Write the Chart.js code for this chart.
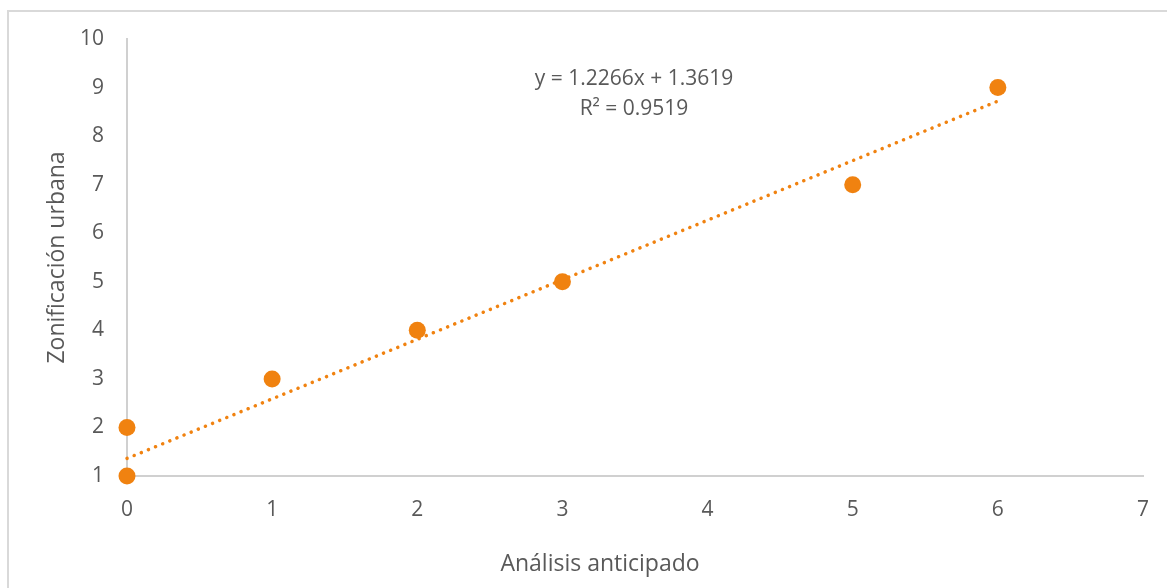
<!DOCTYPE html>
<html>
<head>
<meta charset="utf-8">
<script src="https://cdn.jsdelivr.net/npm/chart.js@4.4.1/dist/chart.umd.min.js"></script>
<style>
  html, body { margin: 0; padding: 0; background: #ffffff; }
  #wrap { width: 1167px; height: 588px; position: relative; }
</style>
</head>
<body>
<div id="wrap"><canvas id="c" width="1167" height="588"></canvas></div>
<script>
// Data
const analisisAnticipado = [0, 0, 1, 2, 3, 5, 6];
const zonificacionUrbana = [1, 2, 3, 4, 5, 7, 9];
// Trendline as printed on the chart
const trendSlope = 1.2266;
const trendIntercept = 1.3619;
const trendRange = [0, 6];
const trendLabel = ['y = 1.2266x + 1.3619', 'R² = 0.9519'];
const xTicks = [0, 1, 2, 3, 4, 5, 6, 7];
const yTicks = [1, 2, 3, 4, 5, 6, 7, 8, 9, 10];
const xTitle = 'Análisis anticipado';
const yTitle = 'Zonificación urbana';

const ORANGE = '#F08210';
const TEXT = '#595959';
const AXIS = '#d0d0d0';
const FONT = "'Open Sans', 'Noto Sans', sans-serif";

const points = analisisAnticipado.map((x, i) => ({ x: x, y: zonificacionUrbana[i] }));
const trendPoints = trendRange.map(x => ({ x: x, y: trendSlope * x + trendIntercept }));

const decor = {
  id: 'decor',
  beforeDraw(chart) {
    const ctx = chart.ctx;
    ctx.save();
    ctx.strokeStyle = '#d9d9d9';
    ctx.lineWidth = 2;
    ctx.strokeRect(8, 11, 1200, 640);
    ctx.restore();
  },
  afterDraw(chart) {
    const ctx = chart.ctx;
    const ys = chart.scales.y;
    ctx.save();
    ctx.fillStyle = TEXT;
    ctx.textAlign = 'center';
    ctx.textBaseline = 'middle';
    ctx.font = "23px " + FONT;
    ctx.fillText(xTitle, 600, 564);
    ctx.save();
    ctx.translate(57, (ys.top + ys.bottom) / 2);
    ctx.rotate(-Math.PI / 2);
    ctx.fillText(yTitle, 0, 0);
    ctx.restore();
    ctx.font = "21px " + FONT;
    ctx.fillText(trendLabel[0], 634, 79);
    ctx.fillText(trendLabel[1], 634, 109);
    ctx.restore();
  }
};

new Chart(document.getElementById('c'), {
  type: 'scatter',
  data: {
    datasets: [
      {
        label: 'Trend',
        data: trendPoints,
        showLine: true,
        borderColor: ORANGE,
        borderWidth: 3.5,
        borderDash: [0.1, 7.6],
        borderCapStyle: 'round',
        pointRadius: 0,
        fill: false,
        clip: false,
        order: 2
      },
      {
        label: 'Datos',
        data: points,
        backgroundColor: ORANGE,
        borderColor: ORANGE,
        borderWidth: 0,
        pointRadius: 8.5,
        pointHoverRadius: 8.5,
        clip: false,
        order: 1
      }
    ]
  },
  plugins: [decor],
  options: {
    responsive: false,
    animation: false,
    layout: { padding: { top: 39, right: 24, left: 0, bottom: 0 } },
    plugins: { legend: { display: false }, tooltip: { enabled: false } },
    scales: {
      x: {
        type: 'linear',
        min: 0, max: 7,
        afterBuildTicks: s => { s.ticks = xTicks.map(v => ({ value: v })); },
        afterFit: s => { s.height = 112; },
        grid: { display: false },
        border: { display: true, color: AXIS, width: 2 },
        ticks: { color: TEXT, font: { family: FONT, size: 21 }, padding: 13, maxRotation: 0 }
      },
      y: {
        type: 'linear',
        min: 1, max: 10,
        afterBuildTicks: s => { s.ticks = yTicks.map(v => ({ value: v })); },
        afterFit: s => { s.width = 127; },
        grid: { display: false },
        border: { display: true, color: AXIS, width: 2 },
        ticks: { color: TEXT, font: { family: FONT, size: 21 }, padding: 15 }
      }
    }
  }
});
</script>
</body>
</html>
